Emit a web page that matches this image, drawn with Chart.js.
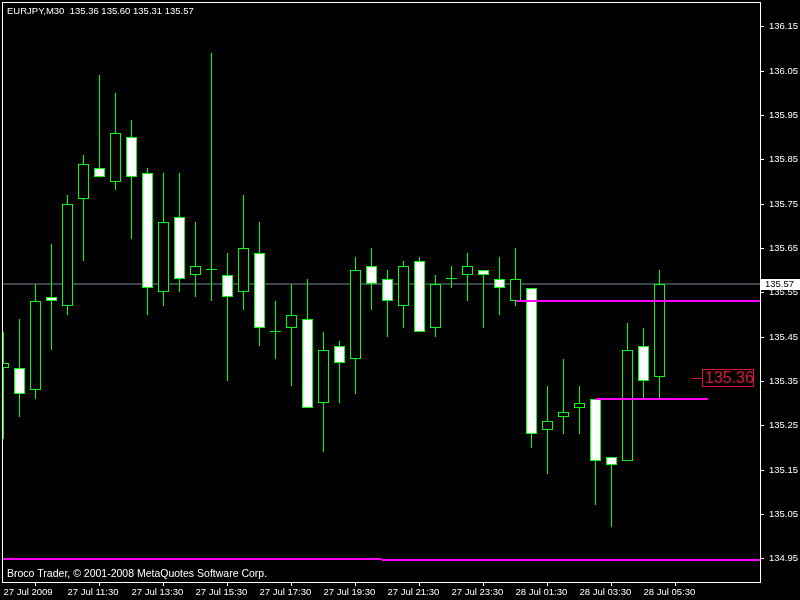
<!DOCTYPE html>
<html lang="en">
<head>
  <meta charset="UTF-8" />
  <title>EURJPY,M30</title>
  <script src="https://cdn.jsdelivr.net/npm/chart.js"></script>
  <style>
    html, body { margin: 0; padding: 0; background: #000; }
  </style>
</head>
<body>
  <canvas id="candles" width="800" height="600"></canvas>

  <script>
    // EURJPY M30, 27 Jul 2009 09:30 -> 28 Jul 2009 06:00 (one entry per bar)
    const symbol = "EURJPY,M30";
    const opens  = [135.38,135.38,135.33,135.54,135.52,135.76,135.83,135.80,135.90,135.82,135.55,135.72,135.59,135.60,135.59,135.55,135.64,135.46,135.47,135.49,135.30,135.43,135.40,135.61,135.58,135.52,135.62,135.47,135.58,135.59,135.60,135.58,135.53,135.56,135.24,135.27,135.29,135.31,135.18,135.17,135.43,135.36];
    const highs  = [135.46,135.49,135.57,135.66,135.77,135.86,136.04,136.00,135.94,135.83,135.82,135.82,135.71,136.09,135.64,135.77,135.71,135.53,135.57,135.58,135.46,135.44,135.63,135.65,135.60,135.62,135.63,135.59,135.61,135.64,135.60,135.63,135.65,135.56,135.34,135.40,135.34,135.31,135.18,135.48,135.47,135.60];
    const lows   = [135.22,135.27,135.31,135.42,135.50,135.62,135.81,135.78,135.67,135.50,135.52,135.55,135.54,135.53,135.35,135.51,135.43,135.40,135.34,135.29,135.19,135.30,135.32,135.51,135.45,135.47,135.46,135.45,135.56,135.53,135.47,135.50,135.52,135.20,135.14,135.23,135.23,135.07,135.02,135.17,135.31,135.31];
    const closes = [135.39,135.32,135.53,135.53,135.75,135.84,135.81,135.91,135.81,135.56,135.71,135.58,135.61,135.60,135.54,135.65,135.47,135.46,135.50,135.29,135.42,135.39,135.60,135.57,135.53,135.61,135.46,135.57,135.58,135.61,135.59,135.56,135.58,135.23,135.26,135.28,135.30,135.17,135.16,135.42,135.35,135.57];

    // a time label every 4th bar (2 hours)
    const tickLabels = ["27 Jul 2009","27 Jul 11:30","27 Jul 13:30","27 Jul 15:30","27 Jul 17:30","27 Jul 19:30","27 Jul 21:30","27 Jul 23:30","28 Jul 01:30","28 Jul 03:30","28 Jul 05:30"];
    const yTicks = [136.15,136.05,135.95,135.85,135.75,135.65,135.55,135.45,135.35,135.25,135.15,135.05,134.95];

    const bidPrice = 135.57;
    const priceLabel = 135.36;
    // drawn objects: [from bar, to bar, price]
    const levelLines = [
      [32.05, 47.3, 135.53],
      [37, 44.03, 135.31],
      [-0.1, 23.65, 134.949],
      [23.65, 47.3, 134.947]
    ];
    const copyright = "Broco Trader, \u00a9 2001-2008 MetaQuotes Software Corp.";

    const fam = "'Liberation Sans', Arial, sans-serif";
    const green = "#00ff00";
    const xMin = -0.03125, xMax = 47.28125;

    const overlay = {
      id: "overlay",
      afterDraw(chart) {
        const { ctx, chartArea: a, scales: { x, y } } = chart;
        ctx.save();
        // frame
        ctx.strokeStyle = "#fff";
        ctx.lineWidth = 1;
        ctx.strokeRect(a.left - 0.5, a.top - 0.5, a.right - a.left + 1, a.bottom - a.top + 1);

        // header + footer
        const n = opens.length - 1;
        ctx.fillStyle = "#fff";
        ctx.font = "9.5px " + fam;
        ctx.textBaseline = "middle";
        ctx.textAlign = "left";
        ctx.fillText(symbol + "  " + [opens[n], highs[n], lows[n], closes[n]].map(v => v.toFixed(2)).join(" "), 7, 11);
        ctx.font = "10.5px " + fam;
        ctx.fillText(copyright, 7, 574);

        // bid label on the price axis
        ctx.font = "9.5px " + fam;
        const by = y.getPixelForValue(bidPrice);
        ctx.fillRect(761, by - 5, 39, 11);
        ctx.fillStyle = "#000";
        ctx.fillText(bidPrice.toFixed(2), 765, by + 0.5);

        // red price label
        const ly = y.getPixelForValue(priceLabel);
        const lx = x.getPixelForValue(43.03);
        ctx.strokeStyle = "#dc143c";
        ctx.beginPath();
        ctx.moveTo(lx, ly + 1.5);
        ctx.lineTo(lx + 10, ly + 1.5);
        ctx.stroke();
        ctx.strokeRect(Math.round(lx) + 10.5, ly - 7.5, 51, 17);
        ctx.fillStyle = "#dc143c";
        ctx.font = "16px " + fam;
        ctx.fillText(priceLabel.toFixed(2), lx + 13, ly + 2);
        ctx.restore();
      }
    };

    const datasets = [
      {
        type: "line",
        data: [{ x: xMin, y: bidPrice }, { x: xMax, y: bidPrice }],
        borderColor: "#778899",
        borderWidth: 1,
        pointRadius: 0,
        order: 3
      },
      {
        type: "bar",
        data: opens.map((o, i) => ({ x: i, y: [lows[i], highs[i]] })),
        backgroundColor: green,
        barThickness: 1,
        grouped: false,
        inflateAmount: 0,
        order: 2
      },
      {
        type: "bar",
        data: opens.map((o, i) => ({ x: i, y: [o, closes[i]] })),
        backgroundColor: opens.map((o, i) => closes[i] >= o ? "#000" : "#fff"),
        borderColor: green,
        borderWidth: 1,
        borderSkipped: false,
        barThickness: 11,
        minBarLength: 1,
        grouped: false,
        inflateAmount: 0,
        order: 1
      }
    ];
    levelLines.forEach(([from, to, price]) => {
      datasets.push({
        type: "line",
        data: [{ x: from, y: price }, { x: to, y: price }],
        borderColor: "#ff00ff",
        borderWidth: 2,
        pointRadius: 0,
        order: 0
      });
    });

    new Chart(document.getElementById("candles"), {
      type: "bar",
      data: { datasets },
      options: {
        responsive: false,
        animation: false,
        layout: { padding: { left: 3, top: 3, right: 0, bottom: 0 } },
        plugins: { legend: { display: false }, tooltip: { enabled: false } },
        scales: {
          x: {
            type: "linear",
            min: xMin,
            max: xMax,
            offset: false,
            afterBuildTicks: s => { s.ticks = tickLabels.map((_, i) => ({ value: i * 4 })); },
            afterFit: s => { s.height = 18; s.paddingLeft = 0; s.paddingRight = 0; },
            grid: { drawOnChartArea: false, tickLength: 4, color: "#fff" },
            border: { display: false },
            ticks: {
              autoSkip: false,
              maxRotation: 0,
              align: "start",
              padding: 1,
              color: "#fff",
              font: { family: fam, size: 9.5 },
              callback: (v, i) => tickLabels[i]
            }
          },
          y: {
            position: "right",
            min: 134.897,
            max: 136.2028,
            alignToPixels: true,
            afterBuildTicks: s => { s.ticks = yTicks.map(v => ({ value: v })); },
            afterFit: s => { s.width = 40; s.paddingTop = 0; s.paddingBottom = 0; },
            grid: { drawOnChartArea: false, tickLength: 4, color: "#fff" },
            border: { display: false },
            ticks: {
              padding: 5,
              color: "#fff",
              font: { family: fam, size: 9.5 },
              callback: v => v.toFixed(2)
            }
          }
        }
      },
      plugins: [overlay]
    });
  </script>
</body>
</html>
